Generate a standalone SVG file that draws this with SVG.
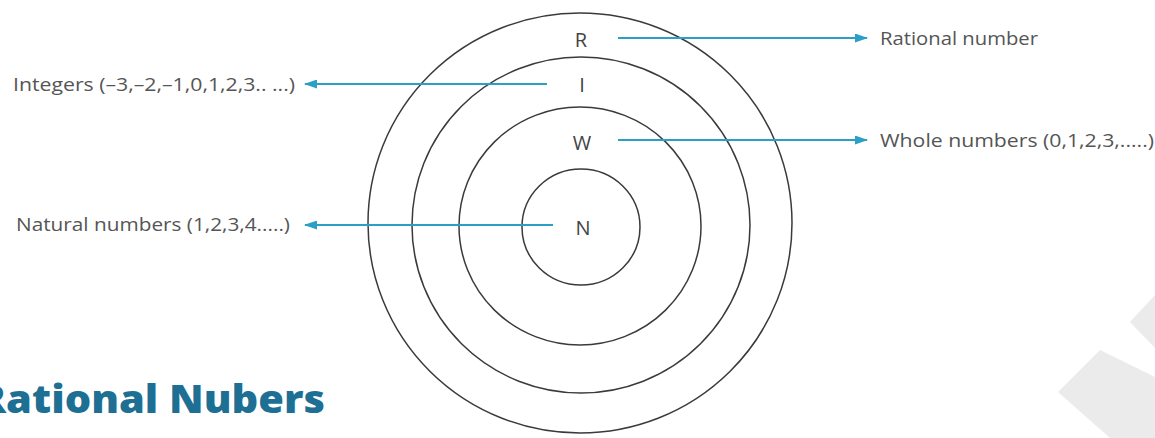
<svg xmlns="http://www.w3.org/2000/svg" width="1155" height="438" viewBox="0 0 1155 438">
<defs>
<style>
.ring{fill:none;stroke:#3a3a3a;stroke-width:1.5}
.letter{font-family:"Open Sans","Liberation Sans",sans-serif;font-size:20px;fill:#444;text-anchor:middle}
.lbl{font-family:"Open Sans","Liberation Sans",sans-serif;font-size:19px;fill:#555}
.conn{stroke:#2b9fc6;stroke-width:2;fill:none;marker-end:url(#ah)}
.title{font-family:"Open Sans",Lato,sans-serif;font-weight:800;font-size:38px;fill:#1d6f93}
</style>
<marker id="ah" markerWidth="13" markerHeight="9" refX="12" refY="4.5" orient="auto" markerUnits="userSpaceOnUse">
<path d="M0,0 L13,4.5 L0,9 Z" fill="#2b9fc6"/>
</marker>
</defs>
<rect width="1155" height="438" fill="#fff"/>
<g id="watermark" fill="#ebebeb">
<polygon points="1155,295 1130,322 1155,348"/>
<polygon points="1100,350 1155,377 1155,438 1110,438 1058,392"/>
</g>
<g id="node-R"><ellipse class="ring" cx="580" cy="223" rx="212" ry="210"/><text class="letter" x="581" y="47">R</text></g>
<g id="node-I"><ellipse class="ring" cx="581" cy="225" rx="169" ry="168"/><text class="letter" x="582" y="92">I</text></g>
<g id="node-W"><ellipse class="ring" cx="580" cy="226" rx="121" ry="119"/><text class="letter" x="582" y="150">W</text></g>
<g id="node-N"><ellipse class="ring" cx="581" cy="227" rx="59" ry="58"/><text class="letter" x="583" y="235">N</text></g>
<g id="connectors">
<line class="conn" x1="618" y1="38" x2="867" y2="38"/>
<line class="conn" x1="618" y1="140" x2="867" y2="140"/>
<line class="conn" x1="547" y1="84" x2="305" y2="84"/>
<line class="conn" x1="553" y1="225" x2="305" y2="225"/>
</g>
<g id="labels">
<text class="lbl" x="880" y="45" textLength="158" lengthAdjust="spacingAndGlyphs">Rational number</text>
<text class="lbl" x="880" y="147" textLength="274" lengthAdjust="spacingAndGlyphs">Whole numbers (0,1,2,3,.....)</text>
<text class="lbl" x="13" y="91" textLength="282" lengthAdjust="spacingAndGlyphs">Integers (–3,–2,–1,0,1,2,3.. ...)</text>
<text class="lbl" x="16" y="231" textLength="274" lengthAdjust="spacingAndGlyphs">Natural numbers (1,2,3,4.....)</text>
</g>
<text class="title" x="-22" y="413" textLength="347" lengthAdjust="spacingAndGlyphs">Rational Nubers</text>
</svg>
